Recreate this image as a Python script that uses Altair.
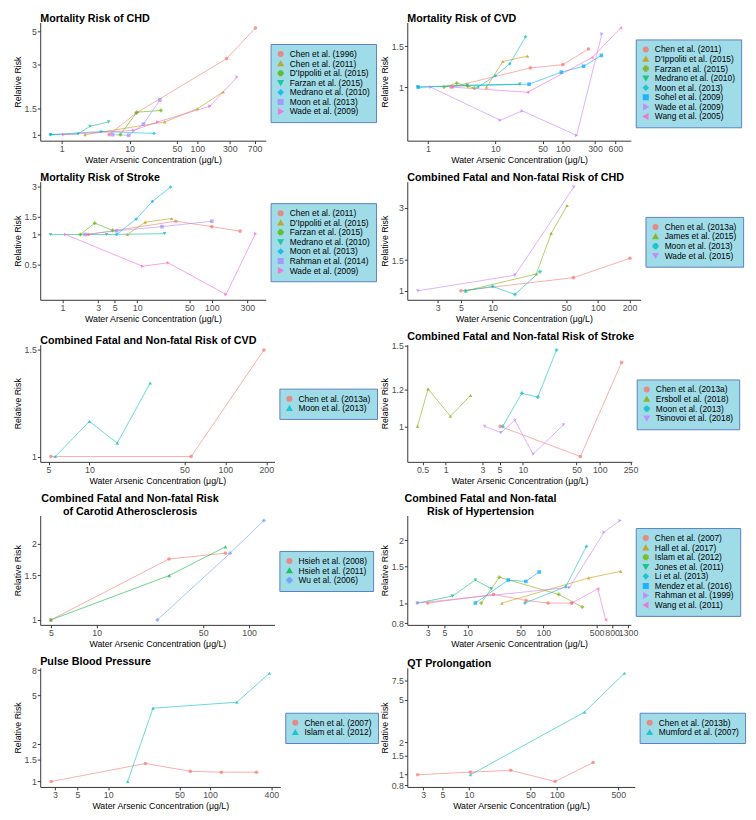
import altair as alt
import numpy as np
import pandas as pd

FONT = "Liberation Sans"
X_TITLE = "Water Arsenic Concentration (μg/L)"
Y_TITLE = "Relative Risk"

HUE2 = ["#F8766D", "#00BFC4"]
HUE3 = ["#F8766D", "#00BA38", "#619CFF"]
HUE4 = ["#F8766D", "#7CAE00", "#00BFC4", "#C77CFF"]
HUE7 = ["#F8766D", "#C49A00", "#53B400", "#00C094", "#00B6EB", "#A58AFF", "#FB61D7"]
HUE8 = ["#F8766D", "#CD9600", "#7CAE00", "#00BE67", "#00BFC4", "#00A9FF", "#C77CFF", "#FF61CC"]
SHAPES = ["circle", "triangle-up", "cross", "triangle-down", "diamond", "square", "triangle-right", "triangle-left"]

# ---- Panel 1: Mortality Risk of CHD
P1_TITLE = "Mortality Risk of CHD"
P1_STUDIES = ["Chen et al. (1996)", "Chen et al. (2011)", "D'Ippoliti et al. (2015)", "Farzan et al. (2015)",
              "Medrano et al. (2010)", "Moon et al. (2013)", "Wade et al. (2009)"]
P1_X = [[5.0, 12.5, 270, 720], [2.2, 33, 100, 240], [7.3, 12.8, 29], [0.68, 1.74, 2.6, 4.9],
        [0.68, 3.8, 23], [5.6, 9.7, 16, 28], [1.06, 11.4, 26, 153, 385]]
P1_Y = [[1.0, 1.4, 3.28, 5.3], [1.0, 1.22, 1.5, 1.95], [1.0, 1.42, 1.46], [1.0, 1.01, 1.14, 1.22],
        [1.0, 1.05, 1.02], [1.0, 0.99, 1.18, 1.72], [1.0, 1.07, 1.22, 1.56, 2.46]]
P1_XTICKS = [1, 10, 50, 100, 300, 700]
P1_YTICKS = [1, 1.5, 3, 5]

# ---- Panel 2: Mortality Risk of CVD
P2_TITLE = "Mortality Risk of CVD"
P2_STUDIES = ["Chen et al. (2011)", "D'Ippoliti et al. (2015)", "Farzan et al. (2015)", "Medrano et al. (2010)",
              "Moon et al. (2013)", "Sohel et al. (2009)", "Wade et al. (2009)", "Wang et al. (2005)"]
P2_X = [[2.2, 33, 100, 240], [7.4, 12.9, 30], [1.73, 2.68, 3.9, 4.9], [0.7, 3.8, 23],
        [5.5, 10, 16.4, 28], [0.72, 31.6, 95, 203, 372], [1.1, 11.8, 25, 160, 380], [2.3, 30, 270, 720]]
P2_Y = [[1.0, 1.21, 1.25, 1.46], [1.0, 1.29, 1.36], [1.0, 1.04, 1.01, 0.99], [1.0, 1.02, 1.03],
        [1.0, 1.12, 1.26, 1.65], [1.0, 1.03, 1.16, 1.23, 1.37], [1.0, 0.72, 0.79, 0.62, 1.70], [1.0, 0.95, 1.34, 1.80]]
P2_XTICKS = [1, 10, 50, 100, 300, 600]
P2_YTICKS = [1, 1.5]

# ---- Panel 3: Mortality Risk of Stroke
P3_TITLE = "Mortality Risk of Stroke"
P3_STUDIES = ["Chen et al. (2011)", "D'Ippoliti et al. (2015)", "Farzan et al. (2015)", "Medrano et al. (2010)",
              "Moon et al. (2013)", "Rahman et al. (2014)", "Wade et al. (2009)"]
P3_X = [[2.2, 33, 100, 240], [7.4, 12.8, 29], [1.73, 2.7, 4.7], [0.69, 3.9, 23.4],
        [5.3, 9.7, 16, 28], [2.0, 5.3, 21.5, 100], [1.1, 11.8, 26, 155, 385]]
P3_Y = [[1.0, 1.36, 1.20, 1.08], [1.0, 1.33, 1.45], [1.0, 1.30, 1.10], [1.0, 1.0, 1.02],
        [1.0, 1.43, 2.15, 3.0], [1.0, 1.09, 1.2, 1.36], [1.0, 0.48, 0.52, 0.25, 1.02]]
P3_XTICKS = [1, 3, 5, 10, 50, 100, 300]
P3_YTICKS = [0.5, 1, 1.5, 3]

# ---- Panel 4: Combined Fatal and Non-fatal Risk of CHD
P4_TITLE = "Combined Fatal and Non-fatal Risk of CHD"
P4_STUDIES = ["Chen et al. (2013a)", "James et al. (2015)", "Moon et al. (2013)", "Wade et al. (2015)"]
P4_X = [[5.0, 58.5, 202], [5.6, 26, 36, 51], [5.5, 10, 16.3, 28.2], [1.95, 16.3, 59]]
P4_Y = [[1.0, 1.19, 1.54], [1.0, 1.25, 2.14, 3.1], [1.0, 1.06, 0.953, 1.29], [1.0, 1.23, 3.96]]
P4_XTICKS = [3, 5, 10, 50, 100, 200]
P4_YTICKS = [1, 1.5, 3]

# ---- Panel 5: Combined Fatal and Non-fatal Risk of CVD
P5_TITLE = "Combined Fatal and Non-fatal Risk of CVD"
P5_STUDIES = ["Chen et al. (2013a)", "Moon et al. (2013)"]
P5_X = [[5.2, 56, 192], [5.6, 10, 16, 28]]
P5_Y = [[1.0, 1.0, 1.495], [1.0, 1.142, 1.052, 1.32]]
P5_XTICKS = [5, 10, 50, 100, 200]
P5_YTICKS = [1, 1.5]

# ---- Panel 6: Combined Fatal and Non-fatal Risk of Stroke
P6_TITLE = "Combined Fatal and Non-fatal Risk of Stroke"
P6_STUDIES = ["Chen et al. (2013a)", "Ersboll et al. (2018)", "Moon et al. (2013)", "Tsinovoi et al. (2018)"]
P6_X = [[5.1, 56, 192], [0.43, 0.59, 1.15, 2.1], [5.5, 9.7, 15.7, 27.4], [3.2, 5.2, 7.9, 13.6, 33.8]]
P6_Y = [[1.0, 0.86, 1.377], [1.0, 1.206, 1.052, 1.168], [1.0, 1.18, 1.158, 1.465], [1.0, 0.969, 1.031, 0.87, 1.008]]
P6_XTICKS = [0.5, 1, 3, 5, 10, 50, 100, 250]
P6_YTICKS = [1, 1.2, 1.5]

# ---- Panel 7: Carotid Atherosclerosis
P7_TITLE = ["Combined Fatal and Non-fatal Risk", "of Carotid Atherosclerosis"]
P7_STUDIES = ["Hsieh et al. (2008)", "Hsieh et al. (2011)", "Wu et al. (2006)"]
P7_X = [[5.0, 29.8, 70], [5.0, 29.9, 70], [25, 75, 125]]
P7_Y = [[1.0, 1.745, 1.84], [1.0, 1.5, 1.95], [1.0, 1.84, 2.48]]
P7_XTICKS = [5, 10, 50, 100]
P7_YTICKS = [1, 1.5, 2]

# ---- Panel 8: Hypertension
P8_TITLE = ["Combined Fatal and Non-fatal", "Risk of Hypertension"]
P8_STUDIES = ["Chen et al. (2007)", "Hall et al. (2017)", "Islam et al. (2012)", "Jones et al. (2011)",
              "Li et al. (2013)", "Mendez et al. (2016)", "Rahman et al. (1999)", "Wang et al. (2011)"]
P8_X = [[3.0, 22, 59, 115, 234], [28.4, 394, 1038], [15.2, 26.3, 159, 325], [2.2, 6.35, 12.7, 20.7],
        [57, 197, 367], [12.7, 34.5, 58.7, 88], [2.2, 220, 628, 1020], [235, 520, 660]]
P8_Y = [[1.0, 1.10, 1.03, 1.0, 1.0], [1.0, 1.32, 1.42], [1.0, 1.33, 1.10, 0.957], [1.0, 1.08, 1.29, 1.17],
        [1.0, 1.2, 1.87], [1.0, 1.29, 1.27, 1.41], [1.0, 1.19, 2.19, 2.49], [1.0, 1.17, 0.83]]
P8_XTICKS = [3, 5, 10, 50, 100, 500, 800, 1300]
P8_YTICKS = [0.8, 1, 1.5, 2]

# ---- Panel 9: Pulse Blood Pressure
P9_TITLE = "Pulse Blood Pressure"
P9_STUDIES = ["Chen et al. (2007)", "Islam et al. (2012)"]
P9_X = [[2.75, 23.2, 64, 129, 286], [15.5, 27.5, 183, 383]]
P9_Y = [[1.0, 1.40, 1.21, 1.19, 1.19], [1.0, 3.93, 4.39, 7.54]]
P9_XTICKS = [3, 5, 10, 50, 100, 400]
P9_YTICKS = [1, 1.5, 2, 5, 8]

# ---- Panel 10: QT Prolongation
P10_TITLE = "QT Prolongation"
P10_STUDIES = ["Chen et al. (2013b)", "Mumford et al. (2007)"]
P10_X = [[2.6, 10.4, 29.8, 95.6, 259], [10.4, 207, 588]]
P10_Y = [[1.0, 1.057, 1.10, 0.864, 1.30], [1.0, 3.84, 8.83]]
P10_XTICKS = [3, 5, 10, 50, 100, 500]
P10_YTICKS = [0.8, 1, 1.5, 2, 5, 7.5]

LEG_FONT = 8.6
LEG_ENTRY = 8.6
LEG_ROWPAD = 0.8
LEG_PAD = 6


def make_df(studies, xs, ys):
    rows = []
    for s, xx, yy in zip(studies, xs, ys):
        for a, b in zip(xx, yy):
            rows.append({"study": s, "conc": a, "rr": b})
    return pd.DataFrame(rows)


def log_domain(vals, frac=0.05):
    lo, hi = np.log10(min(vals)), np.log10(max(vals))
    pad = (hi - lo) * frac
    return [float(10 ** (lo - pad)), float(10 ** (hi + pad))]


def panel(title, studies, xs, ys, xticks, yticks, colors, width, height, title_dx=0):
    df = make_df(studies, xs, ys)
    n = len(studies)
    legend_h = n * (LEG_ENTRY + LEG_ROWPAD) - LEG_ROWPAD + 2 * LEG_PAD
    legend = alt.Legend(
        title=None, orient="none", legendX=width + 5, legendY=(height - legend_h) / 2,
        fillColor="#9FDCE8", strokeColor="#5B7FC0", padding=LEG_PAD,
        labelFont=FONT, labelFontSize=LEG_FONT, labelColor="black", labelLimit=300,
        symbolSize=22, rowPadding=LEG_ROWPAD, clipHeight=LEG_ENTRY, labelOffset=5, symbolOpacity=0.8,
    )
    x = alt.X("conc:Q", scale=alt.Scale(type="log", domain=log_domain(df["conc"]), nice=False),
              axis=alt.Axis(values=xticks, format="~g", title=X_TITLE, labelOverlap=False))
    y = alt.Y("rr:Q", scale=alt.Scale(type="log", domain=log_domain(df["rr"]), nice=False, zero=False),
              axis=alt.Axis(values=yticks, format="~g", title=Y_TITLE, labelOverlap=False))
    color = alt.Color("study:N", scale=alt.Scale(domain=studies, range=colors[:n]), legend=legend)
    shape = alt.Shape("study:N", scale=alt.Scale(domain=studies, range=SHAPES[:n]), legend=legend)
    base = alt.Chart(df)
    line = base.mark_line(strokeWidth=1.0, opacity=0.6).encode(x=x, y=y, color=color)
    pts = base.mark_point(filled=True, size=14, opacity=0.7).encode(x=x, y=y, color=color, shape=shape)
    multi = isinstance(title, list)
    tp = alt.TitleParams(text=title, anchor="start", frame="group", font=FONT, fontSize=11,
                         fontWeight="bold", color="black", offset=-1,
                         align="center" if multi else "left", dx=title_dx)
    return alt.layer(line, pts).properties(width=width, height=height, title=tp)


panels = [
    panel(P1_TITLE, P1_STUDIES, P1_X, P1_Y, P1_XTICKS, P1_YTICKS, HUE7, 231, 121),
    panel(P2_TITLE, P2_STUDIES, P2_X, P2_Y, P2_XTICKS, P2_YTICKS, HUE8, 229, 121),
    panel(P3_TITLE, P3_STUDIES, P3_X, P3_Y, P3_XTICKS, P3_YTICKS, HUE7, 231, 121),
    panel(P4_TITLE, P4_STUDIES, P4_X, P4_Y, P4_XTICKS, P4_YTICKS, HUE4, 239, 121),
    panel(P5_TITLE, P5_STUDIES, P5_X, P5_Y, P5_XTICKS, P5_YTICKS, HUE2, 240, 120),
    panel(P6_TITLE, P6_STUDIES, P6_X, P6_Y, P6_XTICKS, P6_YTICKS, HUE4, 230, 120),
    panel(P7_TITLE, P7_STUDIES, P7_X, P7_Y, P7_XTICKS, P7_YTICKS, HUE3, 240, 112, title_dx=92),
    panel(P8_TITLE, P8_STUDIES, P8_X, P8_Y, P8_XTICKS, P8_YTICKS, HUE8, 229, 112, title_dx=75),
    panel(P9_TITLE, P9_STUDIES, P9_X, P9_Y, P9_XTICKS, P9_YTICKS, HUE2, 246, 122),
    panel(P10_TITLE, P10_STUDIES, P10_X, P10_Y, P10_XTICKS, P10_YTICKS, HUE2, 233, 122),
]

chart = (
    alt.concat(*panels, columns=2, spacing={"row": 8, "column": 1}, align="each")
    .resolve_scale(color="independent", shape="independent")
    .resolve_legend(color="independent", shape="independent")
    .configure_view(strokeWidth=0)
    .configure_axis(grid=False, domainColor="#333333", tickColor="#333333", labelColor="#4D4D4D",
                    labelFont=FONT, titleFont=FONT, labelFontSize=9, titleFontSize=9,
                    titleFontWeight="normal", titleColor="black", tickSize=3, labelPadding=1,
                    titlePadding=2)
    .properties(padding={"left": 5, "top": -5, "right": 2, "bottom": 2}, background="white")
)

chart.save("out.html", embed_options={"renderer": "svg", "actions": False})
